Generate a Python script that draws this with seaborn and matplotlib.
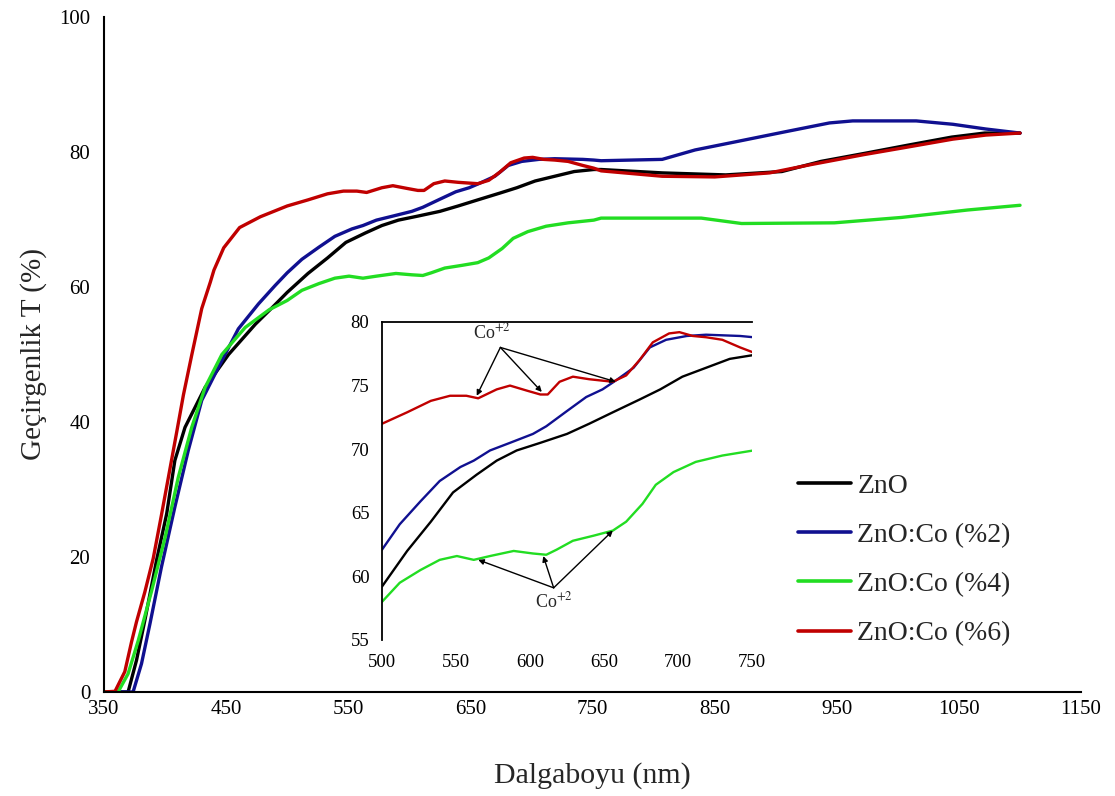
import numpy as np
import pandas as pd
import matplotlib
matplotlib.use("Agg")
import matplotlib.pyplot as plt
import seaborn as sns

# ---------------- data ----------------
labels = ["ZnO", "ZnO:Co (%2)", "ZnO:Co (%4)", "ZnO:Co (%6)"]
colors = ["#000000", "#101090", "#22dd22", "#c00000"]

wl_zno = [350, 369.7, 376.6, 383.4, 393, 401.3, 408, 416.3, 432.7, 452, 474, 488, 500,
          517, 533, 548, 564, 577.5, 591, 607, 625, 640, 656, 674, 688, 703, 719, 735,
          751, 757, 807, 859, 905, 937, 973, 1008, 1044, 1071, 1100]
t_zno = [0, 0, 4.7, 10.6, 19.5, 26.4, 34.3, 39.2, 45.1, 50.0, 54.5, 57.0, 59.2,
         62.0, 64.3, 66.6, 68.0, 69.1, 69.9, 70.5, 71.2, 72.0, 72.9, 73.9, 74.7, 75.7, 76.4, 77.1,
         77.4, 77.4, 76.9, 76.6, 77.1, 78.6, 79.8, 81.0, 82.2, 82.8, 82.8]

wl_co2 = [350, 373.8, 380.7, 387.6, 397, 408, 419, 430, 446.5, 460, 476.5, 490, 500,
          512, 526, 539, 553, 562, 573, 586.5, 602, 611, 625, 638, 649, 658, 670, 681, 692,
          706, 719, 742, 751, 757, 807, 834, 867, 908, 944, 963, 1015, 1045, 1072, 1100]
t_co2 = [0, 0, 4.2, 10.1, 18.5, 27.4, 35.8, 43.2, 49.1, 53.8, 57.5, 60.2, 62.1,
         64.1, 65.9, 67.5, 68.6, 69.1, 69.9, 70.5, 71.2, 71.8, 73.0, 74.1, 74.7, 75.4, 76.4, 78.0, 78.6,
         78.9, 79.0, 78.9, 78.8, 78.7, 78.9, 80.3, 81.5, 83.0, 84.3, 84.6, 84.6, 84.1, 83.4, 82.8]

wl_co4 = [350, 361.5, 369.7, 378, 389, 400, 410.8, 421.8, 432.7, 446.5, 465.6, 485, 500,
          512, 526, 539, 550.6, 562, 573, 589, 602, 611, 618, 629, 643, 656, 665, 676, 685,
          697, 712, 730, 751, 757, 839, 872, 948, 1003, 1057, 1100]
t_co4 = [0, 0, 2.7, 7.6, 15.0, 22.9, 31.8, 39.2, 45.1, 50.0, 54.0, 56.6, 58.0,
         59.5, 60.5, 61.3, 61.6, 61.3, 61.6, 62.0, 61.8, 61.7, 62.1, 62.8, 63.2, 63.6, 64.3, 65.7, 67.2,
         68.2, 69.0, 69.5, 69.9, 70.2, 70.2, 69.4, 69.5, 70.3, 71.4, 72.1]

wl_co6 = [350, 359, 367, 372.5, 376.6, 383.4, 390.3, 397, 402.6, 409.5, 415, 421.8, 430,
          437, 440, 448, 461, 478, 500, 517, 533, 546, 557, 565, 577.5, 586.5, 598, 607, 612,
          620, 629, 640, 656, 665, 674, 683, 694, 701, 710, 719, 730, 742, 751, 757, 807,
          850, 895, 928, 972, 1004, 1045, 1072, 1100]
t_co6 = [0, 0.1, 3.0, 7.4, 10.4, 14.8, 19.8, 26.2, 31.7, 38.5, 44, 49.9, 56.8,
         60.7, 62.5, 65.8, 68.8, 70.4, 72.0, 72.9, 73.8, 74.2, 74.2, 74.0, 74.7, 75.0, 74.6, 74.3, 74.3,
         75.3, 75.7, 75.5, 75.3, 75.8, 77.0, 78.4, 79.1, 79.2, 78.9, 78.8, 78.6, 78.0, 77.6, 77.2, 76.4,
         76.3, 76.9, 78.1, 79.6, 80.6, 81.9, 82.5, 82.8]

main_xticks = [350, 450, 550, 650, 750, 850, 950, 1050, 1150]
main_yticks = [0, 20, 40, 60, 80, 100]
inset_xticks = [500, 550, 600, 650, 700, 750]
inset_yticks = [55, 60, 65, 70, 75, 80]

# Co+2 annotation anchors (inset data coordinates)
co_top_text = (574, 78.4)
co_top_targets = [(564, 74.2), (608, 74.5), (658, 75.3)]
co_bot_text = (616, 58.0)
co_bot_targets = [(565, 61.3), (609, 61.6), (656, 63.6)]

series = [(wl_zno, t_zno), (wl_co2, t_co2), (wl_co4, t_co4), (wl_co6, t_co6)]
frames = []
for lab, (w, t) in zip(labels, series):
    frames.append(pd.DataFrame({"wl": w, "T": t, "sample": lab}))
df = pd.concat(frames, ignore_index=True)
palette = dict(zip(labels, colors))

# ---------------- styling ----------------
sns.set_theme(style="white")
plt.rcParams["font.family"] = ["Liberation Serif", "DejaVu Serif"]
plt.rcParams["mathtext.fontset"] = "stix"

fig = plt.figure(figsize=(11.15, 7.96), dpi=100)
ax = fig.add_axes([0.0933, 0.1307, 0.8763, 0.848])

sns.lineplot(data=df, x="wl", y="T", hue="sample", palette=palette, hue_order=labels,
             estimator=None, sort=False, units="sample", linewidth=2.4, ax=ax, legend=False)

ax.set_xlim(350, 1150)
ax.set_ylim(0, 100)
ax.set_xticks(main_xticks)
ax.set_yticks(main_yticks)
ax.tick_params(axis="x", direction="inout", length=10, width=1.5, labelsize=15, pad=1, colors="black")
ax.tick_params(axis="y", direction="out", length=6, width=1.5, labelsize=15, pad=4, colors="black")
for s in ["top", "right"]:
    ax.spines[s].set_visible(False)
for s in ["left", "bottom"]:
    ax.spines[s].set_color("black")
    ax.spines[s].set_linewidth(1.5)
ax.set_xlabel("Dalgaboyu (nm)", fontsize=21.5, labelpad=31)
ax.set_ylabel("Geçirgenlik T (%)", fontsize=21, labelpad=9)

# legend
handles = [plt.Line2D([], [], color=c, lw=2.6) for c in colors]
fig.legend(handles, labels, loc="upper left", bbox_to_anchor=(0.716, 0.405), frameon=False,
           fontsize=20, handlelength=1.9, labelspacing=0.85, handletextpad=0.22,
           borderaxespad=0, borderpad=0)

# ---------------- inset ----------------
axi = fig.add_axes([0.3426, 0.196, 0.3318, 0.3995])
dfi = df[(df["wl"] >= 495) & (df["wl"] <= 757)]
sns.lineplot(data=dfi, x="wl", y="T", hue="sample", palette=palette, hue_order=labels,
             estimator=None, sort=False, units="sample", linewidth=1.7, ax=axi, legend=False)
axi.set_xlim(500, 750)
axi.set_ylim(55, 80)
axi.set_xticks(inset_xticks)
axi.set_yticks(inset_yticks)
axi.set_xlabel("")
axi.set_ylabel("")
axi.patch.set_alpha(0)
axi.tick_params(axis="x", direction="in", length=4, width=1.2, labelsize=13.5, pad=10, colors="black")
axi.tick_params(axis="y", length=0, labelsize=13.5, pad=9, colors="black")
for s in ["right", "bottom"]:
    axi.spines[s].set_visible(False)
for s in ["left", "top"]:
    axi.spines[s].set_color("black")
    axi.spines[s].set_linewidth(1.3)

arrow_kw = dict(arrowstyle="-|>", color="black", lw=1.0, mutation_scale=8, shrinkA=0, shrinkB=0)
axi.text(co_top_text[0], co_top_text[1], "Co$^{+2}$", fontsize=13, ha="center", va="bottom")
for tx, ty in co_top_targets:
    axi.annotate("", xy=(tx, ty), xytext=(co_top_text[0] + 6, co_top_text[1] - 0.4), arrowprops=arrow_kw)
axi.text(co_bot_text[0], co_bot_text[1], "Co$^{+2}$", fontsize=13, ha="center", va="center")
for tx, ty in co_bot_targets:
    axi.annotate("", xy=(tx, ty), xytext=(co_bot_text[0], co_bot_text[1] + 1.1), arrowprops=arrow_kw)

fig.savefig("out.png", dpi=100)
